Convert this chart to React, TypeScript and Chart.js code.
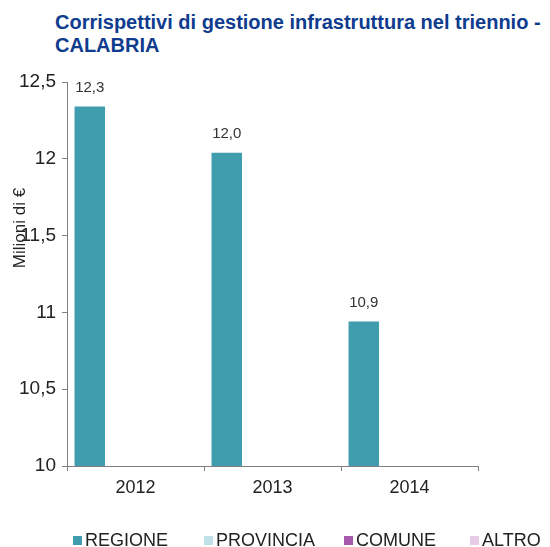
import React, { useEffect, useRef } from "react";
import { Chart, registerables } from "chart.js";

Chart.register(...registerables);

const categories = ["2012", "2013", "2014"];
const seriesNames = ["REGIONE", "PROVINCIA", "COMUNE", "ALTRO"];
const regione = [12.34, 12.04, 10.94];
const provincia: (number | null)[] = [null, null, null];
const comune: (number | null)[] = [null, null, null];
const altro: (number | null)[] = [null, null, null];
const regioneLabels = ["12,3", "12,0", "10,9"];
const seriesColors = ["#409dae", "#c0e1e8", "#a55aab", "#e8cbe6"];
const yTickValues = [10, 10.5, 11, 11.5, 12, 12.5];

const FONT = "'Liberation Sans', Arial, sans-serif";

const fmt = (v: number) => String(v).replace(".", ",");

export default function App() {
  const ref = useRef<HTMLCanvasElement | null>(null);

  useEffect(() => {
    if (!ref.current) return;
    const labelPlugin = {
      id: "barLabels",
      afterDatasetsDraw(chart: any) {
        const ctx = chart.ctx;
        const meta = chart.getDatasetMeta(0);
        ctx.save();
        ctx.font = `15px ${FONT}`;
        ctx.fillStyle = "#333333";
        ctx.textAlign = "center";
        ctx.textBaseline = "middle";
        meta.data.forEach((el: any, i: number) => {
          ctx.fillText(regioneLabels[i], el.x, el.y - 19);
        });
        ctx.restore();
      },
    };
    const yTitlePlugin = {
      id: "yTitle",
      afterDraw(chart: any) {
        const ctx = chart.ctx;
        ctx.save();
        ctx.translate(20, 228);
        ctx.rotate(-Math.PI / 2);
        ctx.font = `17px ${FONT}`;
        ctx.fillStyle = "#222222";
        ctx.textAlign = "center";
        ctx.textBaseline = "middle";
        ctx.fillText("Milioni di €", 0, 0);
        ctx.restore();
      },
    };
    const data = [regione, provincia, comune, altro];
    const chart = new Chart(ref.current, {
      type: "bar",
      data: {
        labels: categories,
        datasets: seriesNames.map((n, i) => ({
          label: n,
          data: data[i] as any,
          backgroundColor: seriesColors[i],
          borderWidth: 0,
        })),
      },
      options: {
        animation: false,
        responsive: false,
        maintainAspectRatio: false,
        datasets: { bar: { categoryPercentage: 0.89, barPercentage: 1.0 } },
        layout: { padding: { top: 82, left: 0, right: 72, bottom: 0 } },
        plugins: {
          legend: { display: false },
          title: { display: false },
          tooltip: { enabled: false },
        },
        scales: {
          x: {
            offset: true,
            grid: {
              drawOnChartArea: false,
              offset: true,
              tickLength: 5,
              color: "#808080",
            },
            border: { color: "#808080", width: 1 },
            ticks: { font: { family: FONT, size: 18 }, color: "#222222", padding: 6 },
            afterFit: (s: any) => {
              s.height = 81;
            },
          },
          y: {
            min: 10,
            max: 12.5,
            afterBuildTicks: (s: any) => {
              s.ticks = yTickValues.map((v) => ({ value: v }));
            },
            grid: { drawOnChartArea: false, tickLength: 5, color: "#808080" },
            border: { color: "#808080", width: 1 },
            ticks: {
              font: { family: FONT, size: 19 },
              color: "#222222",
              padding: 6,
              callback: (v: any) => fmt(Number(v)),
            },
            afterFit: (s: any) => {
              s.width = 67;
            },
          },
        },
      },
      plugins: [labelPlugin, yTitlePlugin],
    });
    return () => chart.destroy();
  }, []);

  const legendPos = [73, 204, 344, 470];

  return (
    <div style={{ position: "absolute", left: 0, top: 0, width: 550, height: 547, background: "#fff", fontFamily: FONT }}>
      <div
        style={{
          position: "absolute",
          left: 55,
          top: 11,
          fontSize: 20,
          fontWeight: "bold",
          color: "#0f3c8e",
          lineHeight: "23px",
          whiteSpace: "nowrap",
        }}
      >
        Corrispettivi di gestione infrastruttura nel triennio -<br />CALABRIA
      </div>
      <canvas ref={ref} width={550} height={547} style={{ position: "absolute", left: 0, top: 0 }} />
      {seriesNames.map((n, i) => (
        <div
          key={n}
          style={{
            position: "absolute",
            left: legendPos[i],
            top: 529,
            height: 22,
            display: "flex",
            alignItems: "center",
            fontSize: 18,
            color: "#222222",
            whiteSpace: "nowrap",
          }}
        >
          <span style={{ display: "inline-block", width: 9, height: 9, background: seriesColors[i], marginRight: 3 }} />
          <span>{n}</span>
        </div>
      ))}
    </div>
  );
}
